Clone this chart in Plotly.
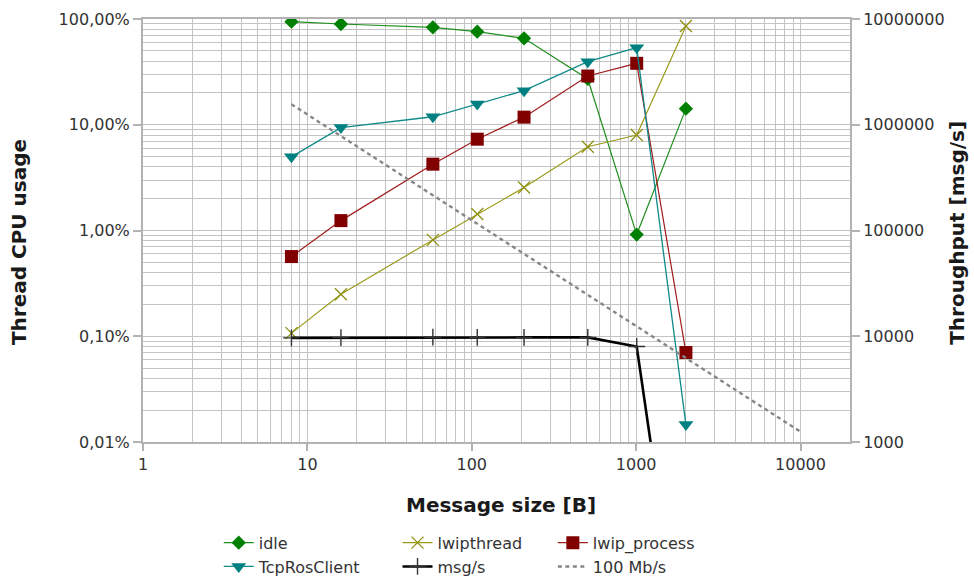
import numpy as np
import plotly.graph_objects as go

# Message sizes [B]
sizes = [8, 16, 58, 108, 208, 508, 1008, 2008]

# Thread CPU usage [%]
idle = [94.3, 89.7, 83.5, 75.9, 65.6, 27.1, 0.915, 14.2]
lwipthread = [0.107, 0.25, 0.815, 1.43, 2.55, 6.2, 8.0, 85.9]
lwip_process = [0.567, 1.24, 4.24, 7.3, 11.8, 28.9, 38.1, 0.0702]
tcp_ros_client = [4.97, 9.4, 11.9, 15.7, 21.0, 39.5, 53.6, 0.0146]

# Throughput [msg/s]
msg_per_s = [9650, 9700, 9800, 9750, 9750, 9750, 8000, 5]

# Theoretical 100 Mb/s limit [msg/s]
limit_sizes = [8, 10000]
limit_100mbps = [1562500, 1250]

# Axis ticks
x_tickvals = [1, 10, 100, 1000, 10000]
x_ticktext = ["1", "10", "100", "1000", "10000"]
left_tickvals = [0.01, 0.1, 1, 10, 100]
left_ticktext = ["0,01%", "0,10%", "1,00%", "10,00%", "100,00%"]
right_tickvals = [1000, 10000, 100000, 1000000, 10000000]
right_ticktext = ["1000", "10000", "100000", "1000000", "10000000"]


def minor_vals(lo_exp, hi_exp):
    return [m * 10 ** e for e in range(lo_exp, hi_exp) for m in range(2, 10)]


FONT = "DejaVu Sans"
GRID = "#c4c4c4"
AXIS = "#b3b3b3"
TXT = "#333333"
TITLE = "#1a1a1a"

fig = go.Figure()

# Legend column 1: idle / TcpRosClient
fig.add_trace(go.Scatter(
    x=sizes, y=idle, name="idle", mode="lines+markers", legend="legend",
    line=dict(color="#1f8f1f", width=1.2),
    marker=dict(symbol="diamond", size=11, color="#008000"),
))
# Legend column 2: lwipthread / msg/s
fig.add_trace(go.Scatter(
    x=sizes, y=lwipthread, name="lwipthread", mode="lines+markers", legend="legend2",
    line=dict(color="#9a9a1a", width=1.2),
    marker=dict(symbol="x-thin", size=12, color="#8f8f10",
                line=dict(color="#8f8f10", width=1.3)),
))
# Legend column 3: lwip_process / 100 Mb/s
fig.add_trace(go.Scatter(
    x=sizes, y=lwip_process, name="lwip_process", mode="lines+markers", legend="legend3",
    line=dict(color="#a01c1c", width=1.2),
    marker=dict(symbol="square", size=13, color="#800000"),
))
fig.add_trace(go.Scatter(
    x=sizes, y=tcp_ros_client, name="TcpRosClient", mode="lines+markers", legend="legend",
    line=dict(color="#108a8a", width=1.3),
    marker=dict(symbol="triangle-down", size=13, color="#008080"),
))
fig.add_trace(go.Scatter(
    x=sizes, y=msg_per_s, name="msg/s", mode="lines+markers", yaxis="y2", legend="legend2",
    line=dict(color="#000000", width=2.6),
    marker=dict(symbol="cross-thin", size=12, color="#333333",
                line=dict(color="#333333", width=1.4)),
))
fig.add_trace(go.Scatter(
    x=limit_sizes, y=limit_100mbps, name="100 Mb/s", mode="lines", yaxis="y2", legend="legend3",
    line=dict(color="#878787", width=2.4, dash="4px,3.5px"),
))


def legend_col(x):
    return dict(
        orientation="v", x=x, xanchor="left", y=-0.198, yanchor="top",
        font=dict(family=FONT, size=16, color=TXT),
        tracegroupgap=0, itemwidth=30, bgcolor="rgba(0,0,0,0)",
        borderwidth=0,
    )


fig.update_layout(
    width=974, height=578,
    margin=dict(l=143, r=124, t=19, b=136, autoexpand=False),
    paper_bgcolor="white", plot_bgcolor="white",
    font=dict(family=FONT, size=16, color=TXT),
    showlegend=True,
    legend=legend_col(0.1071),
    legend2=legend_col(0.3600),
    legend3=legend_col(0.5797),
    xaxis=dict(
        type="log", range=[0, np.log10(20000)],
        tickmode="array", tickvals=x_tickvals, ticktext=x_ticktext,
        showgrid=True, gridcolor=GRID, gridwidth=1,
        minor=dict(tickmode="array", tickvals=minor_vals(0, 5),
                   showgrid=True, gridcolor=GRID, gridwidth=1, ticks=""),
        showline=True, linecolor=AXIS, linewidth=2, mirror=True,
        ticks="outside", ticklen=7, tickcolor=AXIS, tickwidth=2,
        tickfont=dict(family=FONT, size=16, color=TXT),
        zeroline=False,
    ),
    yaxis=dict(
        type="log", range=[-2, 2],
        tickmode="array", tickvals=left_tickvals, ticktext=left_ticktext,
        showgrid=True, gridcolor=GRID, gridwidth=1,
        minor=dict(tickmode="array", tickvals=minor_vals(-2, 2),
                   showgrid=True, gridcolor=GRID, gridwidth=1, ticks=""),
        showline=True, linecolor=AXIS, linewidth=2,
        ticks="outside", ticklen=8, tickcolor=AXIS, tickwidth=2,
        tickfont=dict(family=FONT, size=16, color=TXT),
        zeroline=False,
    ),
    yaxis2=dict(
        type="log", range=[3, 7], overlaying="y", side="right",
        tickmode="array", tickvals=right_tickvals, ticktext=right_ticktext,
        showgrid=False,
        showline=True, linecolor=AXIS, linewidth=2,
        ticks="outside", ticklen=8, tickcolor=AXIS, tickwidth=2,
        tickfont=dict(family=FONT, size=16, color=TXT),
        zeroline=False,
    ),
    annotations=[
        dict(text="<b>Message size [B]</b>", xref="paper", yref="paper",
             x=0.507, y=-0.148, xanchor="center", yanchor="middle",
             showarrow=False, font=dict(family=FONT, size=20, color=TITLE)),
        dict(text="<b>Thread CPU usage</b>", xref="paper", yref="paper",
             x=-0.1752, y=0.473, xanchor="center", yanchor="middle",
             textangle=-90, showarrow=False,
             font=dict(family=FONT, size=20, color=TITLE)),
        dict(text="<b>Throughput [msg/s]</b>", xref="paper", yref="paper",
             x=1.152, y=0.4956, xanchor="center", yanchor="middle",
             textangle=-90, showarrow=False,
             font=dict(family=FONT, size=20, color=TITLE)),
    ],
)

fig.write_html("out.html")
